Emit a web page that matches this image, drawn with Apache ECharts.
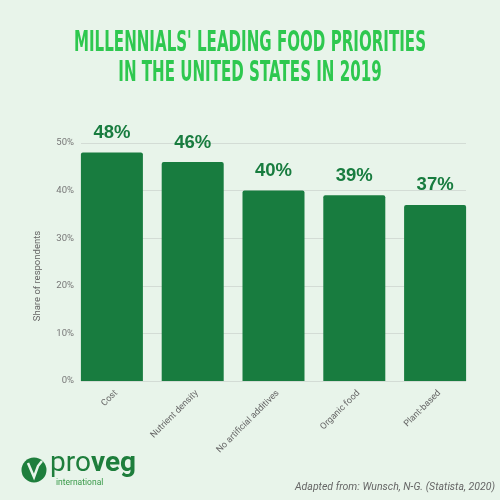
<!DOCTYPE html>
<html><head><meta charset="utf-8">
<script src="https://cdn.jsdelivr.net/npm/echarts@6/dist/echarts.min.js"></script>
<style>html,body{margin:0;padding:0;background:#e8f4ea}#c{width:500px;height:500px}</style>
</head><body><div id="c"></div>
<script>
const categories = ['Cost','Nutrient density','No artificial additives','Organic food','Plant-based'];
const values = [48, 46, 40, 39, 37];
const yTicks = [0, 10, 20, 30, 40, 50];
const titleLines = ["MILLENNIALS' LEADING FOOD PRIORITIES", "IN THE UNITED STATES IN 2019"];
const yName = 'Share of respondents';
const source = 'Adapted from: Wunsch, N-G. (Statista, 2020)';

const chart = echarts.init(document.getElementById('c'));
const titleFont = '"DejaVu Sans"';
const titleSize = 29;
const cv = document.createElement('canvas').getContext('2d');
cv.font = 'bold ' + titleSize + 'px ' + titleFont;
const w1 = cv.measureText(titleLines[0]).width;
const titleScale = 352 / w1;

function titleText(t, cy) {
  return { type: 'text', x: 250, y: cy, scaleX: titleScale,
    style: { text: t, fontFamily: titleFont, fontWeight: 'bold', fontSize: titleSize,
      fill: '#2ec84f', align: 'center', verticalAlign: 'middle' } };
}

chart.setOption({
  backgroundColor: '#e8f4ea',
  animation: false,
  grid: [
    { left: 81, right: 34, top: 143, bottom: 119 },
    { left: 71.5, right: 24.5, top: 143, bottom: 119 }
  ],
  xAxis: [
    { gridIndex: 0, type: 'value', min: 0, max: 1, show: false },
    { gridIndex: 1, type: 'category', data: categories,
      axisLine: { show: false }, axisTick: { show: false },
      axisLabel: { rotate: 45, color: '#666', fontSize: 9, fontFamily: 'Roboto', margin: 15,
        padding: [0, -6, 0, 0], interval: 0 } }
  ],
  yAxis: [
    { gridIndex: 0, type: 'value', min: yTicks[0], max: yTicks[yTicks.length-1], interval: 10,
      axisLine: { show: false }, axisTick: { show: false },
      axisLabel: { formatter: '{value}%', color: '#777', fontSize: 9.5, fontFamily: 'Roboto', margin: 7 },
      splitLine: { lineStyle: { color: '#d3dcd5', width: 1 } } },
    { gridIndex: 1, type: 'value', min: 0, max: 50, show: false, splitLine: { show: false } }
  ],
  series: [{
    type: 'bar', xAxisIndex: 1, yAxisIndex: 1, data: values, barWidth: 62,
    itemStyle: { color: '#187c3f', borderRadius: [2, 2, 0, 0] },
    label: { show: true, position: 'top', distance: 10, formatter: '{c}%',
      fontFamily: '"Liberation Sans"', fontWeight: 'bold', fontSize: 18.5, color: '#187c3f' }
  }],
  graphic: [
    titleText(titleLines[0], 43.5),
    titleText(titleLines[1], 73.5),
    { type: 'text', x: 38, y: 276, rotation: Math.PI / 2,
      style: { text: yName, fontSize: 9.5, fontFamily: 'Roboto', fill: '#666', align: 'center', verticalAlign: 'middle' } },
    { type: 'circle', shape: { cx: 34, cy: 470, r: 12.5 }, style: { fill: '#1e7e3c' } },
    { type: 'polyline', shape: { points: [[28, 463], [34, 477], [38, 466], [42, 461]] },
      style: { stroke: '#e8f4ea', lineWidth: 2.5, fill: null } },
    { type: 'text', left: 50, top: 450, style: { text: '{a|pro}{b|veg}', fill: '#1e7e3c',
      rich: { a: { fontSize: 28, fontFamily: 'Roboto', fontWeight: 'normal', fill: '#1e7e3c' },
              b: { fontSize: 28, fontFamily: 'Roboto', fontWeight: 'bold', fill: '#1e7e3c' } } } },
    { type: 'text', left: 56, top: 478, style: { text: 'international', fontSize: 8.5, fontFamily: 'Roboto', fill: '#3a9a4a' } },
    { type: 'text', right: 5, top: 482, style: { text: source, fontSize: 10.5, fontStyle: 'italic', fontFamily: 'Roboto', fill: '#666' } }
  ]
});
</script></body></html>
